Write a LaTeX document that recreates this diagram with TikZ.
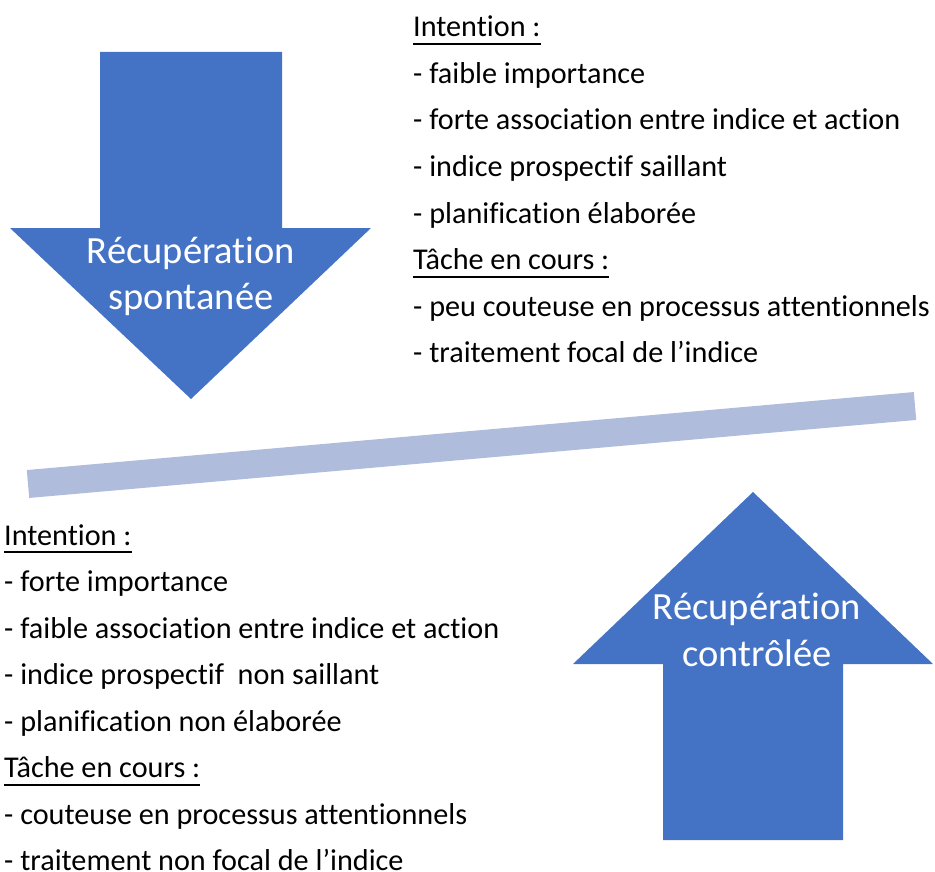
\documentclass[tikz,border=0pt]{standalone}
\usepackage{fontspec}
\setmainfont[RawFeature={-liga;-clig;-dlig}]{Carlito}
\definecolor{arrowblue}{HTML}{4472C4}
\definecolor{barblue}{HTML}{AFBCDC}
\begin{document}
\begin{tikzpicture}[x=1pt,y=-1pt,
  body/.style={anchor=base west,inner sep=0pt,font=\fontsize{30.2}{36}\selectfont},
  arrowtext/.style={anchor=base,inner sep=0pt,text=white,font=\fontsize{38.5}{46}\selectfont},
  uline/.style={line width=2pt,black},
  bigarrow/.style={fill=arrowblue,draw=none}]
\useasboundingbox (0,0) rectangle (935,872);
% bar
\coordinate (barL) at (28,484);
\coordinate (barR) at (915,406);
\draw[barblue,line width=28pt] (barL) -- (barR);
% down arrow
\fill[bigarrow] (100,52) -- (282,52) -- (282,228) -- (371,228) -- (191,399) -- (10,228) -- (100,228) -- cycle;
\node[arrowtext] (d1) at (191,263) {Récupération};
\node[arrowtext] (d2) at (191,309) {spontanée};
% up arrow
\fill[bigarrow] (753,492) -- (933,664) -- (843,664) -- (843,840) -- (663,840) -- (663,664) -- (573,664) -- cycle;
\node[arrowtext] (u1) at (757,619) {Récupération};
\node[arrowtext] (u2) at (757,666) {contrôlée};
% right text
\node[body] (r1) at (413,37) {Intention :};
\node[body] (r2) at (413,83.5) {- faible importance};
\node[body] (r3) at (413,130) {- forte association entre indice et action};
\node[body] (r4) at (413,176.5) {- indice prospectif saillant};
\node[body] (r5) at (413,223) {- planification élaborée};
\node[body] (r6) at (413,269.5) {Tâche en cours :};
\node[body] (r7) at (413,316) {- peu couteuse en processus attentionnels};
\node[body] (r8) at (413,362.5) {- traitement focal de l’indice};
\draw[uline] ([yshift=-7pt]r1.base west) -- ([yshift=-7pt]r1.base east);
\draw[uline] ([yshift=-7pt]r6.base west) -- ([yshift=-7pt]r6.base east);
% left text
\node[body] (l1) at (4,545) {Intention :};
\node[body] (l2) at (4,591.5) {- forte importance};
\node[body] (l3) at (4,638) {- faible association entre indice et action};
\node[body] (l4) at (4,684.5) {- indice prospectif\ \ non saillant};
\node[body] (l5) at (4,731) {- planification non élaborée};
\node[body] (l6) at (4,777.5) {Tâche en cours :};
\node[body] (l7) at (4,824) {- couteuse en processus attentionnels};
\node[body] (l8) at (4,870) {- traitement non focal de l’indice};
\draw[uline] ([yshift=-7pt]l1.base west) -- ([yshift=-7pt]l1.base east);
\draw[uline] ([yshift=-7pt]l6.base west) -- ([yshift=-7pt]l6.base east);
\end{tikzpicture}
\end{document}
